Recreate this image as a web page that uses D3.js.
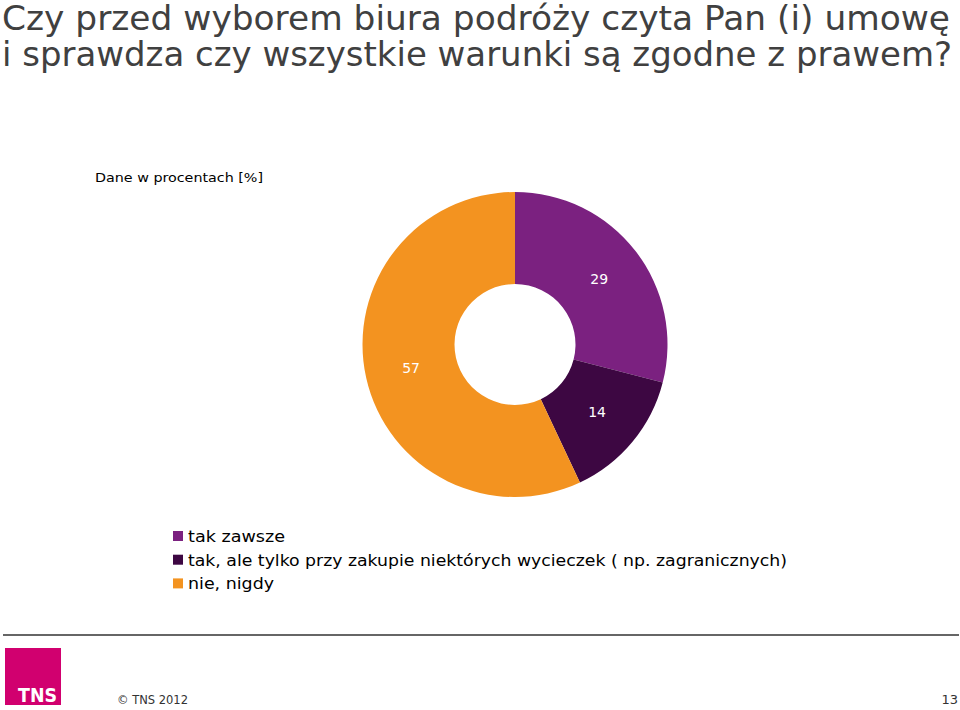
<!DOCTYPE html>
<html>
<head>
<meta charset="utf-8">
<script src="https://cdn.jsdelivr.net/npm/d3@7"></script>
<style>
  html, body { margin: 0; padding: 0; background: #fff; }
  svg { display: block; font-family: "DejaVu Sans", Verdana, sans-serif; }
</style>
</head>
<body>
<svg id="chart" width="960" height="710"></svg>
<script>
const titleLines = [
  "Czy przed wyborem biura podróży czyta Pan (i) umowę",
  "i sprawdza czy wszystkie warunki są zgodne z prawem?"
];
const subtitle = "Dane w procentach [%]";
const categories = [
  "tak zawsze",
  "tak, ale tylko przy zakupie niektórych wycieczek ( np. zagranicznych)",
  "nie, nigdy"
];
const values = [29, 14, 57];
const colors = ["#7B2180", "#3D0742", "#F39320"];
const footerText = "© TNS 2012";
const pageNumber = "13";

const svg = d3.select("#chart");

// Title
const titleWidths = [948, 950];
svg.selectAll("text.title").data(titleLines).join("text")
  .attr("class", "title")
  .attr("x", 2)
  .attr("y", (d, i) => 30 + i * 36)
  .attr("font-size", 33)
  .attr("fill", "#404040")
  .attr("textLength", (d, i) => titleWidths[i])
  .attr("lengthAdjust", "spacingAndGlyphs")
  .text(d => d);

// Subtitle
svg.append("text")
  .attr("x", 95).attr("y", 182)
  .attr("font-size", 13)
  .attr("fill", "#000")
  .attr("textLength", 168)
  .attr("lengthAdjust", "spacingAndGlyphs")
  .text(subtitle);

// Donut
const cx = 515, cy = 344.5, rOuter = 152.5, rInner = 60.5;
const pie = d3.pie().sort(null).value(d => d.v);
const arcs = pie(values.map((v, i) => ({ v, i })));
const arc = d3.arc().innerRadius(rInner).outerRadius(rOuter);
const g = svg.append("g").attr("transform", `translate(${cx},${cy})`);
g.selectAll("path").data(arcs).join("path")
  .attr("d", arc)
  .attr("fill", d => colors[d.data.i]);
g.selectAll("text").data(arcs).join("text")
  .attr("transform", d => `translate(${arc.centroid(d)})`)
  .attr("text-anchor", "middle")
  .attr("dy", "0.35em")
  .attr("font-size", 14)
  .attr("fill", "#fff")
  .text(d => d.data.v);

// Legend
const legendWidths = [97, 599, 86];
const lg = svg.append("g");
const items = lg.selectAll("g").data(categories).join("g")
  .attr("transform", (d, i) => `translate(173, ${531 + i * 23.7})`);
items.append("rect")
  .attr("width", 10).attr("height", 10)
  .attr("fill", (d, i) => colors[i]);
items.append("text")
  .attr("x", 15).attr("y", 11)
  .attr("font-size", 16)
  .attr("fill", "#000")
  .attr("textLength", (d, i) => legendWidths[i])
  .attr("lengthAdjust", "spacingAndGlyphs")
  .text(d => d);

// Footer
svg.append("line")
  .attr("x1", 3).attr("x2", 959)
  .attr("y1", 635).attr("y2", 635)
  .attr("stroke", "#333").attr("stroke-width", 1.3);
svg.append("rect")
  .attr("x", 5).attr("y", 648).attr("width", 56).attr("height", 57)
  .attr("fill", "#D1006F");
svg.append("text")
  .attr("x", 18).attr("y", 702)
  .attr("font-size", 20).attr("font-weight", "bold")
  .attr("fill", "#fff")
  .attr("font-family", "'Liberation Sans Narrow', 'DejaVu Sans Condensed', sans-serif")
  .attr("textLength", 39)
  .attr("lengthAdjust", "spacingAndGlyphs")
  .text("TNS");
svg.append("text")
  .attr("x", 117).attr("y", 704)
  .attr("font-size", 13)
  .attr("fill", "#333")
  .attr("textLength", 71)
  .attr("lengthAdjust", "spacingAndGlyphs")
  .text(footerText);
svg.append("text")
  .attr("x", 958).attr("y", 704)
  .attr("text-anchor", "end")
  .attr("font-size", 13)
  .attr("fill", "#333")
  .text(pageNumber);
</script>
</body>
</html>
